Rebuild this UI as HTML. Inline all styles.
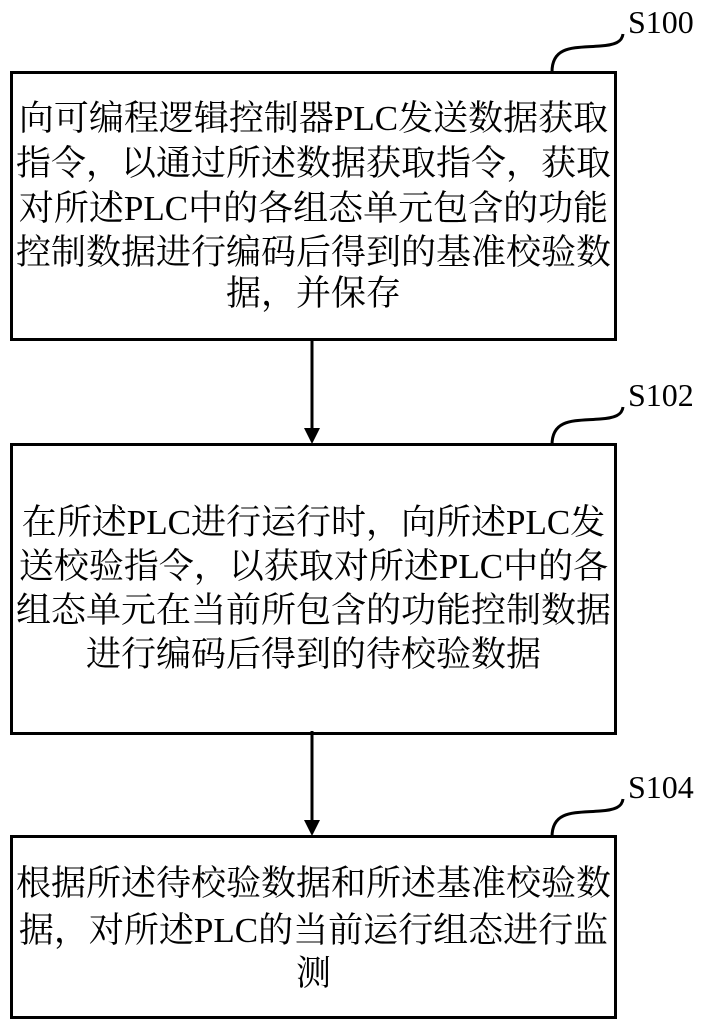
<!DOCTYPE html>
<html><head><meta charset="utf-8"><style>
body{margin:0;width:711px;height:1027px;background:#fff;position:relative;overflow:hidden}
.box{position:absolute;left:10px;width:601px;border:3px solid #000;box-sizing:content-box}
.t{position:absolute;left:10px;width:607px;text-align:center;font-family:"Liberation Serif","Noto Serif CJK SC",serif;font-size:35px;line-height:44px;color:#000;white-space:nowrap}
.l{position:absolute;font-family:"Liberation Serif",serif;font-size:32px;color:#000}
</style></head><body>
<div class="box" style="top:71px;height:264px"></div>
<div class="box" style="top:443px;height:286px"></div>
<div class="box" style="top:835px;height:178px"></div>
<svg width="711" height="1027" style="position:absolute;left:0;top:0">
<g stroke="#000" stroke-width="3" fill="none">
<path d="M552 72 C552 45 575 48 600 46 C615 45 622 42 623 34"/>
<path d="M552 445 C552 418 575 421 600 419 C615 418 622 415 623 407"/>
<path d="M552 837 C552 810 575 813 600 811 C615 810 622 807 623 799"/>
<line x1="312" y1="338" x2="312" y2="430"/>
<line x1="312" y1="731" x2="312" y2="822"/>
</g>
<polygon points="304,428 320,428 312,444" fill="#000"/>
<polygon points="304,820 320,820 312,836" fill="#000"/>
</svg>
<div class="l" style="left:628px;top:4px">S100</div>
<div class="l" style="left:628px;top:377px">S102</div>
<div class="l" style="left:628px;top:769px">S104</div>
<div class="t" style="top:97px">向可编程逻辑控制器PLC发送数据获取</div>
<div class="t" style="top:142px">指令，以通过所述数据获取指令，获取</div>
<div class="t" style="top:187px">对所述PLC中的各组态单元包含的功能</div>
<div class="t" style="top:231px">控制数据进行编码后得到的基准校验数</div>
<div class="t" style="top:272px">据，并保存</div>
<div class="t" style="top:501px">在所述PLC进行运行时，向所述PLC发</div>
<div class="t" style="top:545px">送校验指令，以获取对所述PLC中的各</div>
<div class="t" style="top:589px">组态单元在当前所包含的功能控制数据</div>
<div class="t" style="top:633px">进行编码后得到的待校验数据</div>
<div class="t" style="top:862px">根据所述待校验数据和所述基准校验数</div>
<div class="t" style="top:909px">据，对所述PLC的当前运行组态进行监</div>
<div class="t" style="top:952px">测</div>
</body></html>
